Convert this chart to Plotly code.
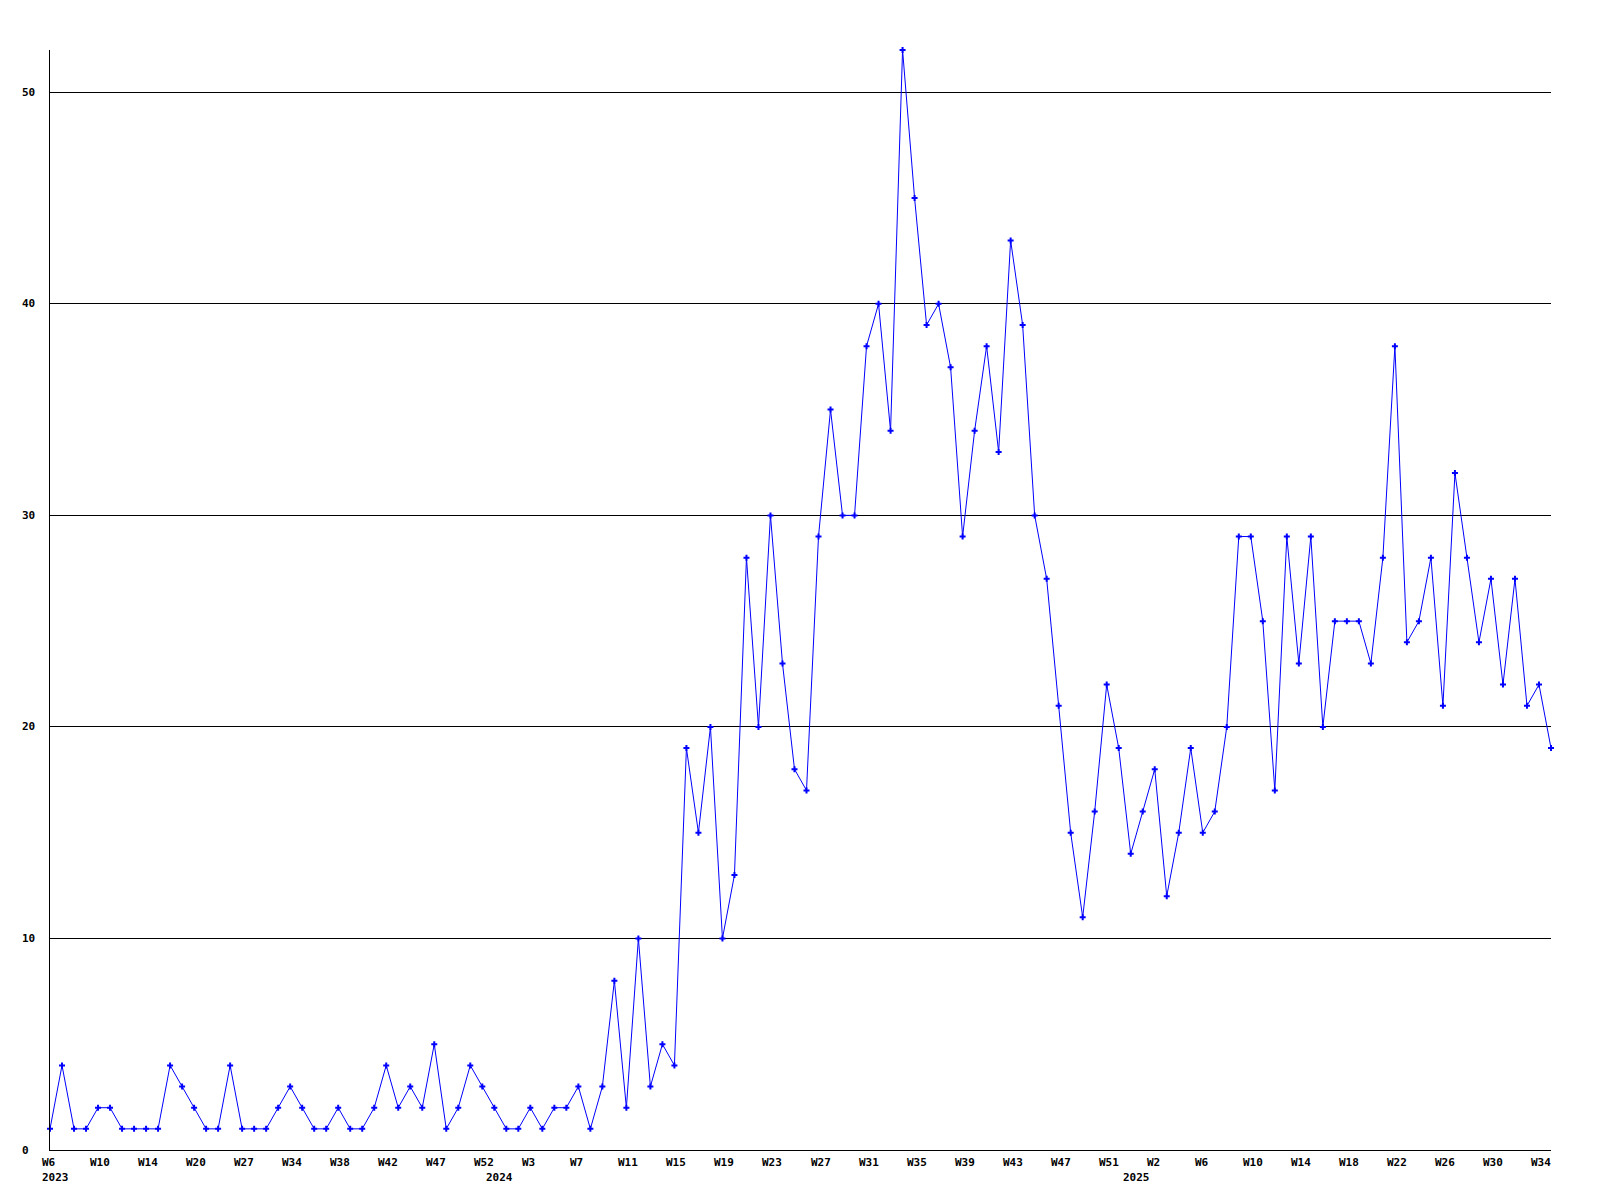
import plotly.graph_objects as go

# ---- data ----
values = [1, 4, 1, 1, 2, 2, 1, 1, 1, 1, 4, 3, 2, 1, 1, 4, 1, 1, 1, 2,
          3, 2, 1, 1, 2, 1, 1, 2, 4, 2, 3, 2, 5, 1, 2, 4, 3, 2, 1, 1,
          2, 1, 2, 2, 3, 1, 3, 8, 2, 10, 3, 5, 4, 19, 15, 20, 10, 13, 28, 20,
          30, 23, 18, 17, 29, 35, 30, 30, 38, 40, 34, 52, 45, 39, 40, 37, 29, 34, 38, 33,
          43, 39, 30, 27, 21, 15, 11, 16, 22, 19, 14, 16, 18, 12, 15, 19, 15, 16, 20, 29,
          29, 25, 17, 29, 23, 29, 20, 25, 25, 25, 23, 28, 38, 24, 25, 28, 21, 32, 28, 24,
          27, 22, 27, 21, 22, 19]

week_labels = ["W6", "W10", "W14", "W20", "W27", "W34", "W38", "W42", "W47", "W52",
               "W3", "W7", "W11", "W15", "W19", "W23", "W27", "W31", "W35", "W39",
               "W43", "W47", "W51",
               "W2", "W6", "W10", "W14", "W18", "W22", "W26", "W30", "W34"]
label_step = 4

year_labels = ["2023", "2024", "2025"]
year_first_point = [0, 37, 90]

y_ticks = [0, 10, 20, 30, 40, 50]

x = list(range(len(values)))

FONT = dict(family="DejaVu Sans Mono", size=11, color="black")

fig = go.Figure()
fig.add_trace(go.Scatter(
    x=x, y=values, mode="lines+markers",
    line=dict(color="#0000FF", width=1),
    marker=dict(symbol="cross", size=5, color="#0000FF"),
    cliponaxis=False, showlegend=False, hoverinfo="skip"))

annotations = []
for k, lab in enumerate(week_labels):
    annotations.append(dict(x=k * label_step, y=0, xref="x", yref="y",
                            text="<b>%s</b>" % lab, showarrow=False,
                            xanchor="left", yanchor="middle",
                            xshift=-10, yshift=-12, font=FONT))
for lab, pos in zip(year_labels, year_first_point):
    annotations.append(dict(x=pos, y=0, xref="x", yref="y",
                            text="<b>%s</b>" % lab, showarrow=False,
                            xanchor="left", yanchor="middle",
                            xshift=-10, yshift=-27, font=FONT))
for v in y_ticks:
    annotations.append(dict(x=0, y=v, xref="paper", yref="y",
                            text="<b>%d</b>" % v, showarrow=False,
                            xanchor="left", yanchor="middle",
                            xshift=-30, font=FONT))

fig.update_layout(
    width=1600, height=1200,
    margin=dict(l=42, r=57, t=42, b=58),
    paper_bgcolor="white", plot_bgcolor="white",
    xaxis=dict(range=[0, len(values) - 1], showgrid=False, zeroline=False,
               showline=True, linecolor="black", linewidth=1,
               showticklabels=False, ticks=""),
    yaxis=dict(range=[0, 52], tickvals=y_ticks[1:], showgrid=True,
               gridcolor="black", gridwidth=1, zeroline=False,
               showline=True, linecolor="black", linewidth=1,
               showticklabels=False, ticks=""),
    annotations=annotations,
)

fig.write_html("out.html")
